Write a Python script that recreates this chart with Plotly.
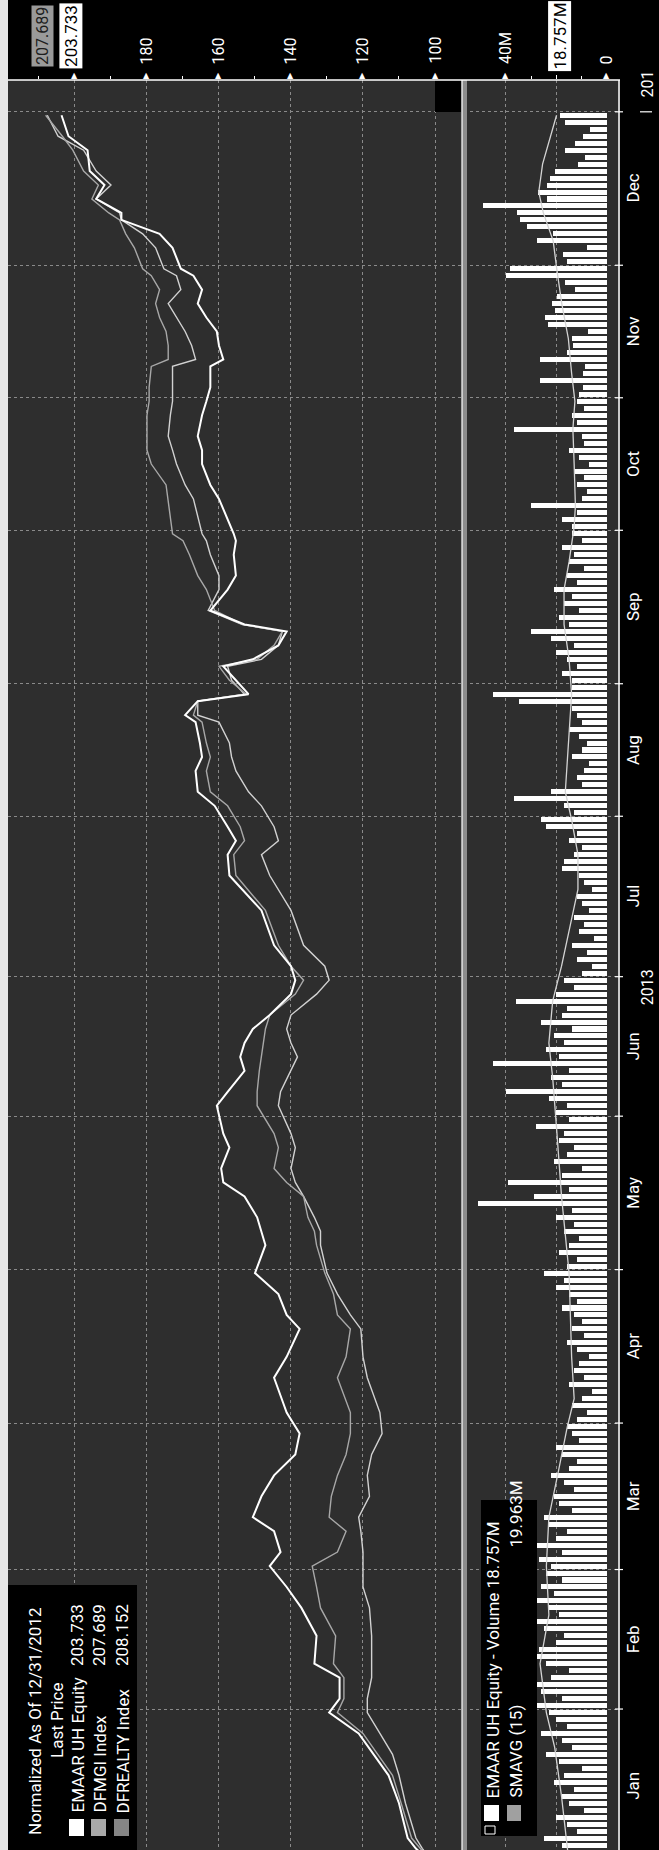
import plotly.graph_objects as go

W, H = 659, 1850

# ---------------- data ----------------
MONTHS = ["Jan", "Feb", "Mar", "Apr", "May", "Jun", "Jul", "Aug", "Sep", "Oct", "Nov", "Dec"]
MONTH_DAYS = [22, 20, 21, 22, 22, 20, 23, 19, 22, 19, 19, 22]  # trading days per month (2013)

# trading-day index of the sampled price points
PRICE_T = [0, 2.5, 4, 9, 13, 16, 19, 22, 24, 27, 29, 33, 37, 40, 43, 45, 48, 50, 53, 56,
           59, 62, 65, 70, 73, 77, 79, 82, 85, 89, 91, 93, 96, 98, 100, 103, 105, 109, 111, 114,
           116, 118, 120, 122, 125, 127, 129, 132, 137, 142, 145, 147, 149, 152, 154, 157, 159, 161, 164, 165,
           167, 168, 170, 172, 173, 175, 177, 178, 180, 183, 185, 188, 190, 191, 196, 198, 201, 203, 205, 208,
           210, 212, 215, 216, 218, 220, 222, 224, 226, 228, 229, 232, 234, 236, 237, 239, 241, 243, 246, 248,
           251]

EMAAR = [100, 105.3, 107.6, 110.0, 112.9, 117.1, 121.2, 129.4, 126.5, 126.5,
         133.5, 132.9, 137.1, 141.2, 145.9, 142.9, 144.7, 150.6, 148.2, 144.7,
         138.8, 137.6, 141.2, 144.7, 141.2, 137.6, 141.2, 143.5, 150.0, 147.1,
         148.2, 149.4, 152.9, 158.8, 159.4, 157.1, 158.8, 160.6, 157.6, 152.9,
         154.1, 152.9, 150.6, 145.9, 140.0, 138.8, 140.0, 144.7, 148.2, 157.1,
         157.6, 155.3, 157.6, 161.2, 165.9, 166.5, 164.7, 165.3, 166.5, 169.4,
         165.9, 151.8, 155.3, 158.8, 150.6, 143.5, 141.2, 152.9, 162.4, 157.6,
         155.3, 155.9, 155.3, 155.9, 160.0, 162.4, 164.7, 164.7, 165.9, 164.7,
         163.5, 162.4, 162.4, 158.8, 160.0, 160.6, 163.5, 165.9, 164.7, 167.1,
         170.6, 172.9, 176.5, 187.1, 187.1, 194.1, 191.8, 195.9, 196.5, 201.8,
         203.733]

DFREALTY = [100, 104.1, 106.5, 109.4, 111.8, 115.9, 120.0, 127.1, 125.3, 125.3,
            128.2, 127.6, 131.8, 132.9, 134.1, 127.1, 124.7, 129.4, 128.8, 127.1,
            124.7, 123.5, 123.5, 127.1, 124.7, 123.5, 127.1, 128.2, 130.6, 132.9,
            133.5, 135.3, 136.5, 141.2, 144.7, 143.5, 144.7, 149.4, 149.4, 148.8,
            148.2, 147.6, 147.1, 145.9, 138.8, 136.5, 140.0, 143.5, 147.1, 155.3,
            155.9, 152.9, 154.1, 157.6, 162.4, 163.5, 162.4, 163.5, 164.7, 167.1,
            165.9, 152.4, 157.1, 160.0, 149.4, 144.7, 142.4, 153.5, 161.2, 163.5,
            165.9, 168.2, 170.0, 172.9, 174.1, 174.7, 178.8, 180.0, 180.0, 180.0,
            179.4, 179.4, 178.8, 174.1, 174.1, 174.7, 176.5, 177.6, 176.5, 178.8,
            181.2, 183.5, 185.9, 187.6, 190.6, 195.3, 193.5, 197.6, 200.6, 203.5,
            208.152]

DFMGI = [100, 103.5, 105.3, 108.2, 110.0, 111.8, 115.3, 118.8, 118.8, 117.6,
         117.6, 117.6, 118.2, 120.0, 120.0, 120.0, 120.6, 121.2, 118.2, 118.8,
         117.6, 114.7, 115.3, 118.8, 120.0, 120.6, 123.5, 127.1, 130.0, 131.8,
         131.8, 133.5, 136.5, 138.8, 140.0, 138.8, 140.0, 143.5, 142.9, 140.0,
         138.2, 140.0, 141.2, 140.0, 132.9, 129.4, 130.6, 136.5, 140.0, 145.9,
         148.2, 143.5, 144.7, 148.2, 151.8, 155.3, 156.5, 157.1, 160.0, 165.9,
         165.9, 152.9, 156.5, 157.6, 148.2, 143.5, 142.4, 153.5, 163.0, 160.0,
         160.0, 162.4, 163.5, 164.7, 167.1, 169.4, 171.8, 172.9, 174.1, 173.5,
         172.9, 172.9, 172.9, 166.5, 167.6, 169.4, 171.8, 174.1, 170.6, 171.8,
         175.3, 177.6, 181.2, 187.1, 187.6, 194.1, 190.0, 194.1, 197.6, 204.7,
         207.689]

# daily volume (millions of shares), one value per trading day
VOL_JAN = [14, 22, 18, 25, 12, 16, 20, 9, 15, 18, 13, 21, 17, 10, 19, 24, 14, 18, 26, 16, 20, 23]
VOL_FEB = [28, 18, 26, 30, 22, 15, 24, 29, 27, 20, 17, 25, 31, 19, 23, 28, 21, 26, 18, 24]
VOL_MAR = [22, 27, 18, 29, 20, 16, 23, 25, 14, 19, 21, 13, 17, 22, 15, 12, 18, 20, 11, 14, 16]
VOL_APR = [12, 8, 14, 10, 6, 15, 9, 13, 11, 7, 12, 16, 9, 14, 10, 13, 18, 12, 15, 20, 17, 25]
VOL_MAY = [16, 12, 19, 15, 11, 17, 13, 20, 14, 51, 29, 15, 39, 18, 10, 21, 16, 13, 19, 17, 28, 15]
VOL_JUN = [20, 16, 23, 40, 18, 22, 15, 45, 19, 24, 17, 21, 14, 26, 18, 16, 36, 20, 13, 17]
VOL_JUL = [10, 6, 12, 8, 14, 5, 11, 9, 13, 7, 10, 12, 6, 9, 11, 18, 17, 13, 10, 15, 12, 24, 26]
VOL_AUG = [13, 17, 37, 22, 10, 12, 9, 7, 14, 10, 8, 11, 15, 10, 12, 14, 35, 45, 14]
VOL_SEP = [14, 18, 12, 16, 20, 13, 22, 30, 15, 19, 11, 17, 14, 21, 12, 16, 9, 15, 13, 18, 10, 14]
VOL_OCT = [14, 18, 12, 30, 10, 8, 12, 9, 13, 7, 11, 15, 9, 10, 37, 12, 14, 9, 12]
VOL_NOV = [11, 9.5, 26.5, 9.5, 8.7, 26.5, 15.8, 13.5, 13.9, 7.5, 23.4, 24.6, 20.6, 21.8, 19.8, 12.7, 16.6, 40, 38.4]
VOL_DEC = [15.8, 17.4, 7.9, 27.7, 21.4, 31.7, 34.4, 35.6, 49.1, 23.8, 27.3, 23.8, 22.6, 20.6, 11.5, 8.7,
           16.6, 12.7, 9.5, 6.7, 16.6, 18.757]

# 15-day simple moving average of volume
SMA_T = [2, 10, 17, 22, 29, 36, 43, 50, 57, 63, 67, 73, 85, 96, 106, 113, 118, 124, 129,
         140, 145, 150, 154, 159, 168, 173, 178, 183, 187, 192, 195, 201, 206, 210, 214, 219,
         224, 229, 233, 237, 240, 244, 248, 251]
SMAVG = [15.5, 18, 20.7, 24, 26.5, 23, 24, 23, 19, 15.7, 13, 14, 15, 18, 20, 21.5, 23, 21.5, 18,
         11.5, 11.5, 14, 16.5, 15.7, 14, 15, 17, 17, 15, 13, 12.5, 13, 13.5, 12.7, 14, 15.3,
         17.9, 19.9, 21.3, 25.2, 27, 25.5, 22.5, 19.963]

PRICE_TICKS = [100, 120, 140, 160, 180, 200]
PRICE_MINOR = [110, 130, 150, 170, 190, 210]
VOL_TICKS = [0, 40]
VOL_MINOR = [10, 20, 30]

LAST_EMAAR, LAST_DFMGI, LAST_DFREALTY = 203.733, 207.689, 208.152
LAST_VOL, LAST_SMA = 18.757, 19.963

# ---------------- helpers ----------------
VOLUME = VOL_JAN + VOL_FEB + VOL_MAR + VOL_APR + VOL_MAY + VOL_JUN + VOL_JUL + VOL_AUG + VOL_SEP + VOL_OCT + VOL_NOV + VOL_DEC
VOL_T = list(range(1, len(VOLUME) + 1))

bounds = [0.5]
for d in MONTH_DAYS:
    bounds.append(bounds[-1] + d)
centers = [(bounds[i] + bounds[i + 1]) / 2 for i in range(len(MONTH_DAYS))]


def px(x):
    return x / W


def py(y):
    return 1 - y / H


FONT = "Roboto"
WHITE = "#ffffff"

fig = go.Figure()

fig.add_trace(go.Bar(x=VOLUME, y=VOL_T, orientation="h", xaxis="x2", yaxis="y",
                     marker=dict(color=WHITE, line=dict(width=0)), width=0.72))
fig.add_trace(go.Scatter(x=SMAVG, y=SMA_T, mode="lines", xaxis="x2", yaxis="y",
                         line=dict(color="#d4d4d4", width=1.3)))
fig.add_trace(go.Scatter(x=DFMGI, y=PRICE_T, mode="lines", xaxis="x", yaxis="y",
                         line=dict(color="#d2d2d2", width=1.4)))
fig.add_trace(go.Scatter(x=DFREALTY, y=PRICE_T, mode="lines", xaxis="x", yaxis="y",
                         line=dict(color="#a8a8a8", width=1.4)))
fig.add_trace(go.Scatter(x=EMAAR, y=PRICE_T, mode="lines", xaxis="x", yaxis="y",
                         line=dict(color=WHITE, width=2)))

grid = dict(showgrid=True, gridcolor="#8a8a8a", griddash="dot", gridwidth=1)

shapes = []
ann = []

# left page strip
shapes.append(dict(type="rect", xref="paper", yref="paper", x0=0, x1=px(8), y0=0, y1=1,
                   fillcolor="#e6e6e6", line=dict(width=0), layer="above"))
# small black patch at top of price panel
shapes.append(dict(type="rect", xref="paper", yref="paper", x0=px(435), x1=px(461), y0=py(112), y1=py(80),
                   fillcolor="#000000", line=dict(width=0), layer="above"))
# divider between panels
shapes.append(dict(type="rect", xref="paper", yref="paper", x0=px(462), x1=px(467), y0=0, y1=py(80),
                   fillcolor="#8c8c8c", line=dict(width=0), layer="above"))
shapes.append(dict(type="line", xref="paper", yref="paper", x0=px(462), x1=px(462), y0=0, y1=py(80),
                   line=dict(color=WHITE, width=1.2), layer="above"))
# top axis line
shapes.append(dict(type="line", xref="paper", yref="paper", x0=px(8), x1=px(620), y0=py(80), y1=py(80),
                   line=dict(color=WHITE, width=1.5), layer="above"))
# right time axis line
shapes.append(dict(type="line", xref="paper", yref="paper", x0=px(619), x1=px(619), y0=0, y1=py(80),
                   line=dict(color=WHITE, width=1.5), layer="above"))
# month boundary ticks
for b in bounds[1:]:
    shapes.append(dict(type="line", xref="paper", yref="y", x0=px(615), x1=px(623), y0=b, y1=b,
                       line=dict(color=WHITE, width=1.2), layer="above"))
# year separator
shapes.append(dict(type="line", xref="paper", yref="y", x0=px(640), x1=px(652), y0=bounds[-1], y1=bounds[-1],
                   line=dict(color=WHITE, width=1.2), layer="above"))

# legend box (price)
shapes.append(dict(type="rect", xref="paper", yref="paper", x0=px(8), x1=px(137), y0=0, y1=py(1585),
                   fillcolor="#000000", line=dict(width=0), layer="above"))
sw = [(69, 84, WHITE), (91, 106, "#a8a8a8"), (114, 129, "#858585")]
for x0, x1, c in sw:
    shapes.append(dict(type="rect", xref="paper", yref="paper", x0=px(x0), x1=px(x1), y0=py(1836), y1=py(1819),
                       fillcolor=c, line=dict(width=0), layer="above"))
# legend box (volume)
shapes.append(dict(type="rect", xref="paper", yref="paper", x0=px(481), x1=px(537), y0=py(1836), y1=py(1500),
                   fillcolor="#000000", line=dict(width=0), layer="above"))
shapes.append(dict(type="rect", xref="paper", yref="paper", x0=px(484), x1=px(499), y0=py(1821), y1=py(1805),
                   fillcolor=WHITE, line=dict(width=0), layer="above"))
shapes.append(dict(type="rect", xref="paper", yref="paper", x0=px(507), x1=px(521), y0=py(1821), y1=py(1805),
                   fillcolor="#a0a0a0", line=dict(width=0), layer="above"))
shapes.append(dict(type="rect", xref="paper", yref="paper", x0=px(485), x1=px(495), y0=py(1834), y1=py(1826),
                   fillcolor="rgba(0,0,0,0)", line=dict(color=WHITE, width=1), layer="above"))


def rot(text, x, y, xref="paper", yref="paper", size=16, color=WHITE, yanchor="bottom", **kw):
    d = dict(text=text, x=x, y=y, xref=xref, yref=yref, textangle=-90, showarrow=False,
             xanchor="center", yanchor=yanchor, font=dict(family=FONT, size=size, color=color))
    d.update(kw)
    ann.append(d)


# price legend texts
rot("Normalized As Of 12/31/2012", px(35), py(1837), size=17)
rot("Last Price", px(57), py(1760), size=17)
rot("EMAAR UH Equity", px(77), py(1815), size=17)
rot(f"{LAST_EMAAR:.3f}", px(77), py(1668), size=17)
rot("DFMGI Index", px(99), py(1815), size=17)
rot(f"{LAST_DFMGI:.3f}", px(99), py(1668), size=17)
rot("DFREALTY Index", px(122), py(1815), size=17)
rot(f"{LAST_DFREALTY:.3f}", px(122), py(1668), size=17)
# volume legend texts
rot(f"EMAAR UH Equity - Volume {LAST_VOL:.3f}M", px(492), py(1800), size=17)
rot("SMAVG (15)", px(515), py(1800), size=17)
rot(f"{LAST_SMA:.3f}M", px(515), py(1550), size=17)

# top axis labels
for v in PRICE_TICKS:
    rot(str(v), v, py(66), xref="x", size=16)
    ann.append(dict(text="▲", x=v, y=py(75), xref="x", yref="paper", showarrow=False,
                    xanchor="center", yanchor="middle", font=dict(family="DejaVu Sans", size=8, color=WHITE)))
for v in VOL_TICKS:
    rot(f"{v}M" if v else "0", v, py(66), xref="x2", size=16)
    ann.append(dict(text="▲", x=v, y=py(75), xref="x2", yref="paper", showarrow=False,
                    xanchor="center", yanchor="middle", font=dict(family="DejaVu Sans", size=8, color=WHITE)))

# last value tags
rot(f"{LAST_DFMGI:.3f}", px(42), py(36), size=16, color="#1e1e1e", yanchor="middle",
    bgcolor="#9a9a9a", borderpad=1)
rot(f"{LAST_EMAAR:.3f}", LAST_EMAAR - 2.6, py(36), xref="x", size=17, color="#000000", yanchor="middle",
    bgcolor=WHITE, borderpad=1)
rot(f"{LAST_VOL:.3f}M", LAST_VOL, py(36), xref="x2", size=17, color="#000000", yanchor="middle",
    bgcolor=WHITE, borderpad=1)

# month labels
for m, c in zip(MONTHS, centers):
    rot(m, px(633), c, yref="y", size=17, yanchor="middle")
rot("2013", px(647), (bounds[0] + bounds[-1]) / 2, yref="y", size=16, yanchor="middle")
rot("201", px(647), py(100), size=16, yanchor="bottom")

fig.update_layout(
    width=W, height=H, margin=dict(l=0, r=0, t=0, b=0),
    paper_bgcolor="#000000", plot_bgcolor="#2e2e2e",
    showlegend=False, bargap=0,
    xaxis=dict(domain=[px(8), px(462)], range=[218.6, 92.5], side="top", anchor="y",
               tickvals=PRICE_TICKS, showticklabels=False, ticks="outside", ticklen=4,
               tickcolor=WHITE, zeroline=False, showline=False,
               minor=dict(tickvals=PRICE_MINOR, ticks="outside", ticklen=3, tickcolor=WHITE, showgrid=False),
               **grid),
    xaxis2=dict(domain=[px(464), px(620)], range=[56.6, -5.15], side="top", anchor="y",
                tickvals=[20, 40], showticklabels=False, ticks="outside", ticklen=4,
                tickcolor=WHITE, zeroline=False, showline=False,
                minor=dict(tickvals=VOL_MINOR, ticks="outside", ticklen=3, tickcolor=WHITE, showgrid=False),
                **grid),
    yaxis=dict(domain=[0, py(80)], range=[2.29, 256.06], anchor="x",
               tickvals=bounds, showticklabels=False, ticks="", zeroline=False, showline=False,
               **grid),
    shapes=shapes, annotations=ann,
)

fig.write_html("out.html", config={"displayModeBar": False},
               post_script="document.body.style.margin='0';document.body.style.background='#000';")
